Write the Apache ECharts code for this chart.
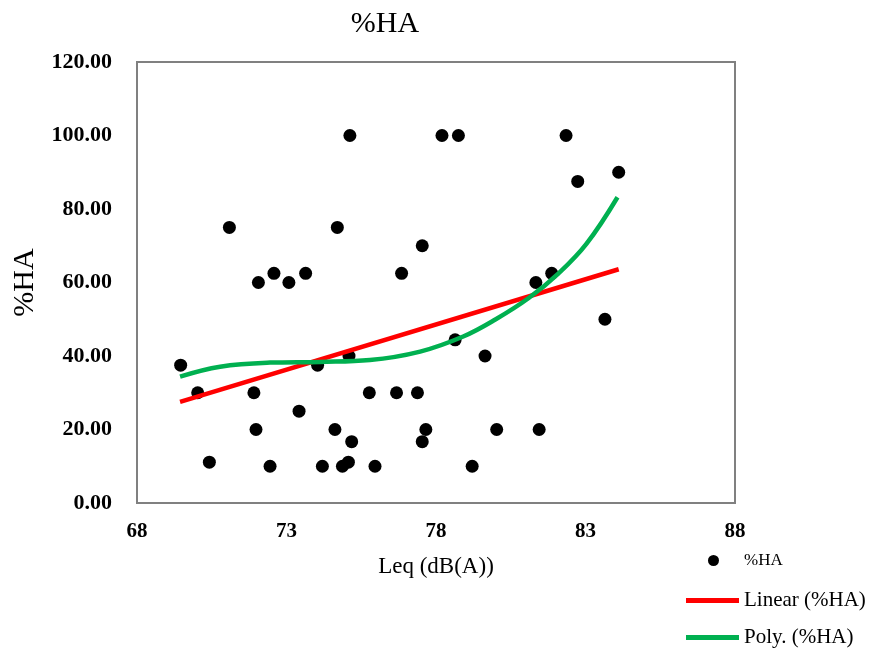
<!DOCTYPE html>
<html>
<head>
<meta charset="utf-8">
<script src="https://cdn.jsdelivr.net/npm/echarts@6/dist/echarts.min.js"></script>
<style>
html,body{margin:0;padding:0;background:#fff;}
#chart{width:877px;height:650px;}
</style>
</head>
<body>
<div id="chart"></div>
<script>
// Scatter data: Leq (dB(A)) vs %HA
const leq = [69.46, 70.03, 70.42, 71.09, 71.91, 71.98, 72.06, 72.45, 72.58, 73.08,
             73.42, 73.64, 74.04, 74.20, 74.62, 74.70, 74.87, 75.07, 75.09, 75.12,
             75.18, 75.77, 75.96, 76.68, 76.85, 77.38, 77.54, 77.54, 77.66, 78.20,
             78.64, 78.75, 79.21, 79.64, 80.03, 81.34, 81.45, 81.87, 82.35, 82.74,
             83.65, 84.11];
const ha  = [37.5, 30.0, 11.1, 75.0, 30.0, 20.0, 60.0, 10.0, 62.5, 60.0,
             25.0, 62.5, 37.5, 10.0, 20.0, 75.0, 10.0, 11.1, 40.0, 100.0,
             16.7, 30.0, 10.0, 30.0, 62.5, 30.0, 16.7, 70.0, 20.0, 100.0,
             44.4, 100.0, 10.0, 40.0, 20.0, 60.0, 20.0, 62.5, 100.0, 87.5,
             50.0, 90.0];

// Linear trend line
const linearX = [69.44, 84.11];
const linearY = [27.5, 63.6];

// Polynomial trend line
const polyX = [69.44, 70.78, 72.45, 74.12, 75.79, 77.47, 78.91, 80.00, 81.09, 82.10, 83.03, 84.07];
const polyY = [34.4, 37.1, 38.2, 38.4, 38.9, 41.2, 45.3, 50.0, 55.7, 62.5, 70.5, 83.2];

const xTicks = [68, 73, 78, 83, 88];

const FONT = "'Liberation Serif','Times New Roman',serif";

const scatterData = leq.map((x, i) => [x, ha[i]]);
const linearData = linearX.map((x, i) => [x, linearY[i]]);
const polyData = polyX.map((x, i) => [x, polyY[i]]);

const chart = echarts.init(document.getElementById('chart'), null, {renderer: 'canvas'});
chart.setOption({
  backgroundColor: '#fff',
  animation: false,
  title: {
    text: '%HA',
    left: 380,
    textAlign: 'center',
    top: 4,
    textStyle: {fontFamily: FONT, fontSize: 30, fontWeight: 'normal', color: '#000'}
  },
  legend: [
    {
      data: [{name: '%HA', icon: 'circle'}], orient: 'vertical', left: 708, top: 552,
      padding: 0, itemWidth: 11, itemHeight: 11, itemGap: 5,
      textStyle: {fontFamily: FONT, fontSize: 17, color: '#000', padding: [0, 0, 0, 20]}
    },
    {
      data: [{name: 'Linear (%HA)', icon: 'rect'}], orient: 'vertical', left: 686, top: 590,
      padding: 0, itemWidth: 53, itemHeight: 5, itemGap: 5,
      textStyle: {fontFamily: FONT, fontSize: 21, color: '#000'}
    },
    {
      data: [{name: 'Poly. (%HA)', icon: 'rect'}], orient: 'vertical', left: 686, top: 627,
      padding: 0, itemWidth: 53, itemHeight: 5, itemGap: 5,
      textStyle: {fontFamily: FONT, fontSize: 21, color: '#000'}
    }
  ],
  grid: {
    left: 137, top: 62, width: 598, height: 441,
    show: true, borderColor: '#808080', borderWidth: 2, backgroundColor: '#fff'
  },
  xAxis: {
    type: 'value', min: 68, max: 88, interval: 5,
    name: 'Leq (dB(A))', nameLocation: 'middle', nameGap: 52,
    nameTextStyle: {fontFamily: FONT, fontSize: 23, color: '#000'},
    axisLine: {show: false}, axisTick: {show: false}, splitLine: {show: false},
    axisLabel: {
      margin: 18, fontFamily: FONT, fontSize: 21, fontWeight: 'bold', color: '#000',
      formatter: v => xTicks.includes(v) ? String(v) : ''
    }
  },
  yAxis: {
    type: 'value', min: 0, max: 120, interval: 20,
    name: '%HA', nameLocation: 'middle', nameGap: 96, nameRotate: 90,
    nameTextStyle: {fontFamily: FONT, fontSize: 30, color: '#000'},
    axisLine: {show: false}, axisTick: {show: false}, splitLine: {show: false},
    axisLabel: {
      margin: 25, fontFamily: FONT, fontSize: 22, fontWeight: 'bold', color: '#000',
      formatter: v => v.toFixed(2)
    }
  },
  series: [
    {
      name: '%HA', type: 'scatter', data: scatterData,
      symbol: 'circle', symbolSize: 13, z: 3,
      itemStyle: {color: '#000', opacity: 1}
    },
    {
      name: 'Linear (%HA)', type: 'line', data: linearData,
      showSymbol: false, symbol: 'none', z: 4,
      lineStyle: {color: '#ff0000', width: 4.5}, itemStyle: {color: '#ff0000'}
    },
    {
      name: 'Poly. (%HA)', type: 'line', data: polyData, smooth: 0.4,
      showSymbol: false, symbol: 'none', z: 5,
      lineStyle: {color: '#00b050', width: 4.5}, itemStyle: {color: '#00b050'}
    }
  ]
});
</script>
</body>
</html>
